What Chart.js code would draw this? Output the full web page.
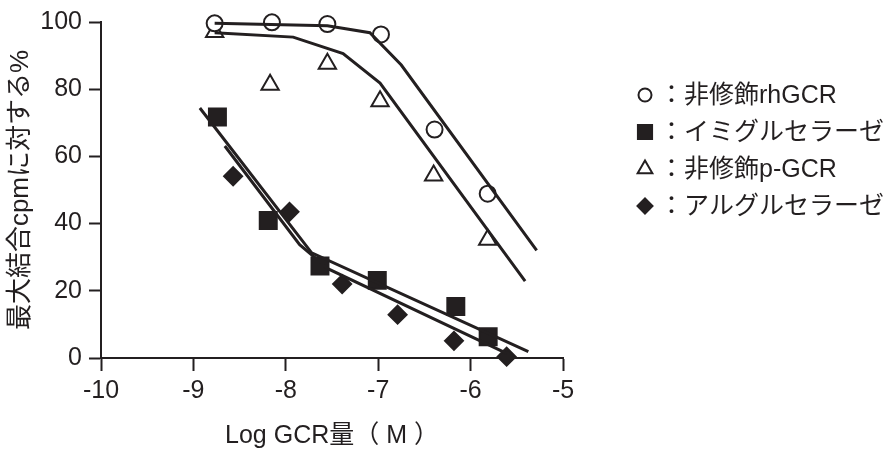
<!DOCTYPE html>
<html>
<head>
<meta charset="utf-8">
<script src="https://cdn.jsdelivr.net/npm/chart.js@4.4.0/dist/chart.umd.min.js"></script>
<style>
  html, body { margin: 0; padding: 0; background: #fff; }
  #wrap { width: 895px; height: 455px; }
</style>
</head>
<body>
<div id="wrap"><canvas id="bindingChart" width="895" height="455"></canvas></div>
<script>
const INK = "#231f20";
const FONT = "'Liberation Sans', Arial, 'Noto Sans CJK JP', sans-serif";

// measured points: log dose (M) vs % of max binding cpm
const rhgcrX = [-8.77, -8.15, -7.55, -6.97, -6.39, -5.815];
const rhgcrY = [99.6, 99.9, 99.4, 96.3, 68.0, 48.9];
const imiX = [-8.74, -8.19, -7.63, -7.01, -6.16, -5.81];
const imiY = [71.7, 40.9, 27.4, 23.1, 15.3, 6.3];
const pgcrX = [-8.77, -8.17, -7.55, -6.98, -6.4, -5.815];
const pgcrY = [97.0, 81.3, 87.6, 76.4, 54.3, 35.2];
const algX = [-8.57, -7.96, -7.39, -6.79, -6.18, -5.61];
const algY = [54.1, 43.5, 22.0, 12.9, 5.1, 0.4];

// fitted curves as drawn (polyline vertices)
const rhgcrFitX = [-8.77, -7.55, -7.09, -6.75, -5.285];
const rhgcrFitY = [99.6, 98.9, 96.8, 87.2, 32.0];
const pgcrFitX = [-8.77, -7.92, -7.38, -6.98, -5.41];
const pgcrFitY = [96.8, 95.5, 90.6, 81.8, 22.9];
const imiFitX = [-8.93, -7.72, -5.375];
const imiFitY = [74.4, 31.3, 1.9];
const algFitX = [-8.66, -7.85, -7.54, -5.61];
const algFitY = [63.1, 33.7, 26.5, 1.4];

const xTicks = [-10, -9, -8, -7, -6, -5];
const yTicks = [0, 20, 40, 60, 80, 100];
const legendLabels = ["：非修飾rhGCR", "：イミグルセラーゼ", "：非修飾p-GCR", "：アルグルセラーゼ"];

const pts = (xs, ys) => xs.map((x, i) => ({ x: x, y: ys[i] }));

const fitLine = (xs, ys) => ({
  data: pts(xs, ys),
  showLine: true,
  borderColor: INK,
  borderWidth: 3,
  pointRadius: 0,
  tension: 0,
  fill: false,
  clip: false,
});

const markers = (xs, ys, style, r, filled) => ({
  data: pts(xs, ys),
  showLine: false,
  pointStyle: style,
  pointRadius: r,
  pointHoverRadius: r,
  pointBorderWidth: 2,
  pointBorderColor: INK,
  pointBackgroundColor: filled ? INK : "#ffffff",
  clip: false,
});

const legendMarks = [
  { style: "circle", r: 6.5, filled: false },
  { style: "rect", r: 10, filled: true },
  { style: "triangle", r: 8.5, filled: false },
  { style: "rectRot", r: 7.5, filled: true },
];

// legend on the right, drawn beside the plot
const sideLegend = {
  id: "sideLegend",
  afterDraw(chart) {
    const ctx = chart.ctx;
    ctx.save();
    ctx.font = "25px " + FONT;
    ctx.textBaseline = "middle";
    legendLabels.forEach((label, i) => {
      const y = 95 + i * 37;
      const m = legendMarks[i];
      ctx.lineWidth = 2;
      ctx.strokeStyle = INK;
      ctx.fillStyle = m.filled ? INK : "#ffffff";
      Chart.helpers.drawPoint(ctx, { pointStyle: m.style, radius: m.r, borderWidth: 2 }, 645, y);
      ctx.fillStyle = INK;
      ctx.fillText(label, 659, y + 1);
    });
    ctx.restore();
  },
};

new Chart(document.getElementById("bindingChart").getContext("2d"), {
  type: "scatter",
  data: {
    datasets: [
      fitLine(rhgcrFitX, rhgcrFitY),
      fitLine(pgcrFitX, pgcrFitY),
      fitLine(imiFitX, imiFitY),
      fitLine(algFitX, algFitY),
      markers(rhgcrX, rhgcrY, "circle", 8, false),
      markers(pgcrX, pgcrY, "triangle", 10, false),
      markers(imiX, imiY, "rect", 12, true),
      markers(algX, algY, "rectRot", 9, true),
    ],
  },
  options: {
    responsive: false,
    animation: false,
    layout: { padding: { top: 18, right: 332, bottom: 0, left: 0 } },
    plugins: {
      legend: { display: false },
      tooltip: { enabled: false },
    },
    scales: {
      x: {
        type: "linear",
        min: -10,
        max: -5,
        afterBuildTicks: (s) => { s.ticks = xTicks.map((v) => ({ value: v })); },
        afterFit: (s) => { s.height = 97; },
        border: { color: INK, width: 2 },
        grid: { drawOnChartArea: false, drawTicks: true, tickLength: 13, tickColor: INK, tickWidth: 2 },
        ticks: { color: INK, font: { size: 25, family: FONT }, padding: 5, callback: (v) => String(v) },
        title: {
          display: true,
          text: "Log GCR量（ M ）",
          color: INK,
          font: { size: 25, family: FONT },
          padding: { top: 0, bottom: 4 },
        },
      },
      y: {
        type: "linear",
        min: 0,
        max: 100,
        afterBuildTicks: (s) => { s.ticks = yTicks.map((v) => ({ value: v })); },
        afterFit: (s) => { s.width = 101; },
        border: { color: INK, width: 2 },
        grid: { drawOnChartArea: false, drawTicks: true, tickLength: 12, tickColor: INK, tickWidth: 2 },
        ticks: { color: INK, font: { size: 25, family: FONT }, padding: 7, callback: (v) => String(v) },
        title: {
          display: true,
          text: "最大結合cpmに対する%",
          color: INK,
          font: { size: 26, family: FONT },
          padding: { top: 5, bottom: 0 },
        },
      },
    },
  },
  plugins: [sideLegend],
});
</script>
</body>
</html>
